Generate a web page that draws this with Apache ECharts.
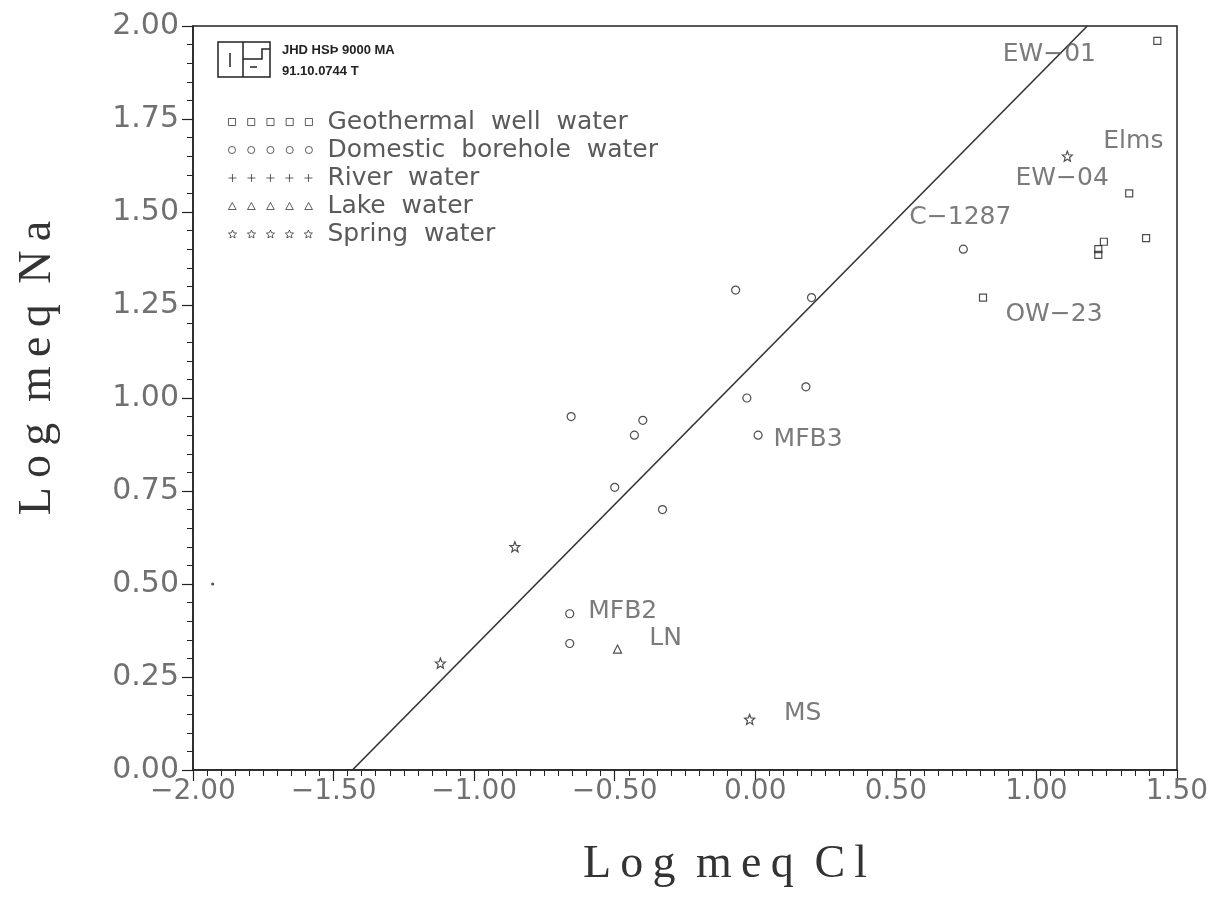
<!DOCTYPE html>
<html>
<head>
<meta charset="utf-8">
<script src="https://cdn.jsdelivr.net/npm/echarts@6/dist/echarts.min.js"></script>
<style>
  html, body { margin: 0; padding: 0; background: #fff; }
  #chart { width: 1212px; height: 906px; }
</style>
</head>
<body>
<div id="chart"></div>
<script>
// values
var xTicks = [-2.0, -1.5, -1.0, -0.5, 0.0, 0.5, 1.0, 1.5];
var yTicks = [0.0, 0.25, 0.5, 0.75, 1.0, 1.25, 1.5, 1.75, 2.0];

var geoX = [1.43, 1.33, 1.39, 1.24, 1.22, 1.22, 0.81];
var geoY = [1.96, 1.55, 1.43, 1.42, 1.40, 1.385, 1.27];
var geoNames = ['EW−01', 'EW−04', '', '', '', '', 'OW−23'];

var boreX = [0.74, -0.07, 0.20, -0.03, 0.18, 0.01, -0.655, -0.40, -0.43, -0.50, -0.33, -0.66, -0.66];
var boreY = [1.40, 1.29, 1.27, 1.00, 1.03, 0.90, 0.95, 0.94, 0.90, 0.76, 0.70, 0.42, 0.34];
var boreNames = ['C−1287', '', '', '', '', 'MFB3', '', '', '', '', '', 'MFB2', ''];

var riverX = [];
var riverY = [];

var lakeX = [-0.49];
var lakeY = [0.325];
var lakeNames = ['LN'];

var springX = [1.11, -0.855, -1.12, -0.02];
var springY = [1.65, 0.60, 0.287, 0.136];
var springNames = ['Elms', '', '', 'MS'];

var dotX = [-1.93];
var dotY = [0.50];

// reference line Na vs Cl
var lineX = [-1.433, 1.181];
var lineY = [0.0, 2.0];

var seriesNames = ['Geothermal  well  water', 'Domestic  borehole  water', 'River  water', 'Lake  water', 'Spring  water'];

// label placement (px offsets from the point)
var labelOffsets = {
  'EW−01': [-108, 14], 'EW−04': [-67, -15], 'OW−23': [71, 17], 'C−1287': [-3, -32],
  'MFB3': [50, 4], 'MFB2': [53, -2], 'LN': [48, -11], 'Elms': [66, -15], 'MS': [53, -6]
};

var ink = '#222';
var textGray = '#5a5a5a';
var sansFont = 'DejaVu Sans';

function starPath(cx, cy, R, r) {
  var s = '';
  for (var i = 0; i < 10; i++) {
    var a = -Math.PI / 2 + i * Math.PI / 5;
    var rr = i % 2 === 0 ? R : r;
    s += (i === 0 ? 'M' : 'L') + (cx + rr * Math.cos(a)).toFixed(2) + ',' + (cy + rr * Math.sin(a)).toFixed(2);
  }
  return s + 'Z';
}

// shape units, drawn in an 8x8 box at offset x
var units = {
  square: function (x) { return 'M' + (x + 0.5) + ',0.5h7v7h-7z'; },
  circle: function (x) { return 'M' + (x + 0.5) + ',4a3.5,3.5 0 1,0 7,0a3.5,3.5 0 1,0 -7,0'; },
  plus: function (x) { return 'M' + x + ',4h8M' + (x + 4) + ',0v8'; },
  triangle: function (x) { return 'M' + (x + 4) + ',0.5L' + (x + 7.8) + ',7.5L' + (x + 0.2) + ',7.5Z'; },
  star: function (x) { return starPath(x + 4, 4.3, 4.3, 2.0); }
};

function repeated(kind) {
  var s = '';
  for (var k = 0; k < 5; k++) s += units[kind](k * 19);
  return 'path://' + s;
}

function pts(xs, ys, names) {
  return xs.map(function (x, i) {
    var item = { value: [x, ys[i]] };
    var nm = names ? names[i] : '';
    if (nm) {
      item.name = nm;
      item.label = { show: true, formatter: nm, offset: labelOffsets[nm] };
    }
    return item;
  });
}

var pointLabel = {
  show: false, position: 'inside', color: textGray,
  fontFamily: sansFont, fontSize: 25
};

var hollow = { color: 'rgba(0,0,0,0)', borderColor: ink, borderWidth: 1.2 };

function fmt(v) {
  return v.toFixed(2).replace('-', '−');
}

// spread letters a little, like the plotter lettering
function spaced(s) {
  return s.split(' ').map(function (w) { return w.split('').join('\u2009'); }).join(' \u2009');
}

var titleFont = { fontFamily: 'Liberation Serif', fontSize: 46, color: '#333' };

var option = {
  animation: false,
  backgroundColor: '#fff',
  grid: {
    left: 193, right: 35, top: 26, bottom: 136,
    outerBoundsMode: 'none',
    show: true, borderColor: ink, borderWidth: 1.5, backgroundColor: 'transparent'
  },
  legend: {
    orient: 'vertical',
    left: 223, top: 103,
    itemWidth: 84, itemHeight: 8, itemGap: 0,
    itemStyle: { borderWidth: 0.9 },
    textStyle: {
      fontFamily: sansFont, fontSize: 25, color: textGray,
      lineHeight: 28, padding: [0, 0, 0, 10]
    },
    data: [
      { name: seriesNames[0], icon: repeated('square') },
      { name: seriesNames[1], icon: repeated('circle') },
      { name: seriesNames[2], icon: repeated('plus') },
      { name: seriesNames[3], icon: repeated('triangle') },
      { name: seriesNames[4], icon: repeated('star') }
    ],
    selectedMode: false
  },
  xAxis: {
    type: 'value',
    min: xTicks[0], max: xTicks[xTicks.length - 1], interval: 0.5,
    name: spaced('Log meq Cl'), nameLocation: 'middle', nameGap: 72,
    nameTextStyle: Object.assign({ padding: [0, 0, 0, 80] }, titleFont),
    axisLine: { onZero: false, lineStyle: { color: ink, width: 1.5 } },
    axisTick: { length: 11, lineStyle: { color: ink, width: 1.2 } },
    minorTick: { show: true, splitNumber: 10, length: 6, lineStyle: { color: ink, width: 1 } },
    splitLine: { show: false },
    axisLabel: { margin: 8, fontFamily: sansFont, fontSize: 28, color: '#707070', formatter: fmt }
  },
  yAxis: {
    type: 'value',
    min: yTicks[0], max: yTicks[yTicks.length - 1], interval: 0.25,
    name: spaced('Log meq Na'), nameLocation: 'middle', nameGap: 132,
    nameTextStyle: Object.assign({ padding: [0, 0, 0, 60] }, titleFont),
    axisLine: { onZero: false, lineStyle: { color: ink, width: 1.5 } },
    axisTick: { length: 11, lineStyle: { color: ink, width: 1.2 } },
    minorTick: { show: true, splitNumber: 5, length: 6, lineStyle: { color: ink, width: 1 } },
    splitLine: { show: false },
    axisLabel: { margin: 14, fontFamily: sansFont, fontSize: 30, color: '#707070', formatter: fmt }
  },
  graphic: [
    { type: 'rect', shape: { x: 218, y: 42, width: 52, height: 35 }, style: { fill: 'none', stroke: ink, lineWidth: 1.5 } },
    { type: 'line', shape: { x1: 243, y1: 42, x2: 243, y2: 77 }, style: { stroke: ink, lineWidth: 1.5 } },
    { type: 'line', shape: { x1: 230, y1: 53, x2: 230, y2: 67 }, style: { stroke: ink, lineWidth: 1.5 } },
    { type: 'polyline', shape: { points: [[270, 49], [262, 49], [262, 59], [243, 59]] }, style: { fill: 'none', stroke: ink, lineWidth: 1.5 } },
    { type: 'line', shape: { x1: 250, y1: 67, x2: 257, y2: 67 }, style: { stroke: ink, lineWidth: 1.5 } },
    { type: 'text', left: 282, top: 44, style: { text: 'JHD HSÞ 9000 MA', font: 'bold 13px "Liberation Sans"', fill: '#222' } },
    { type: 'text', left: 282, top: 65, style: { text: '91.10.0744 T', font: 'bold 13px "Liberation Sans"', fill: '#222' } }
  ],
  series: [
    {
      name: 'fit', type: 'line', data: lineX.map(function (x, i) { return [x, lineY[i]]; }),
      symbol: 'none', lineStyle: { color: '#333', width: 1.6 }, silent: true, z: 1
    },
    {
      name: seriesNames[0], type: 'scatter', symbol: 'rect', symbolSize: 7,
      itemStyle: hollow, label: pointLabel, data: pts(geoX, geoY, geoNames)
    },
    {
      name: seriesNames[1], type: 'scatter', symbol: 'circle', symbolSize: 8,
      itemStyle: hollow, label: pointLabel, data: pts(boreX, boreY, boreNames)
    },
    {
      name: seriesNames[2], type: 'scatter', symbol: 'path://M0,5h10M5,0v10', symbolSize: 9,
      itemStyle: hollow, label: pointLabel, data: pts(riverX, riverY, null)
    },
    {
      name: seriesNames[3], type: 'scatter', symbol: 'triangle', symbolSize: 8,
      itemStyle: hollow, label: pointLabel, data: pts(lakeX, lakeY, lakeNames)
    },
    {
      name: seriesNames[4], type: 'scatter', symbol: 'path://' + starPath(5, 5, 5, 2.2), symbolSize: 10,
      itemStyle: hollow, label: pointLabel, data: pts(springX, springY, springNames)
    },
    {
      name: 'dot', type: 'scatter', symbol: 'circle', symbolSize: 3,
      itemStyle: { color: ink }, data: pts(dotX, dotY, null)
    }
  ]
};

var myChart = echarts.init(document.getElementById('chart'));
myChart.setOption(option);
</script>
</body>
</html>
